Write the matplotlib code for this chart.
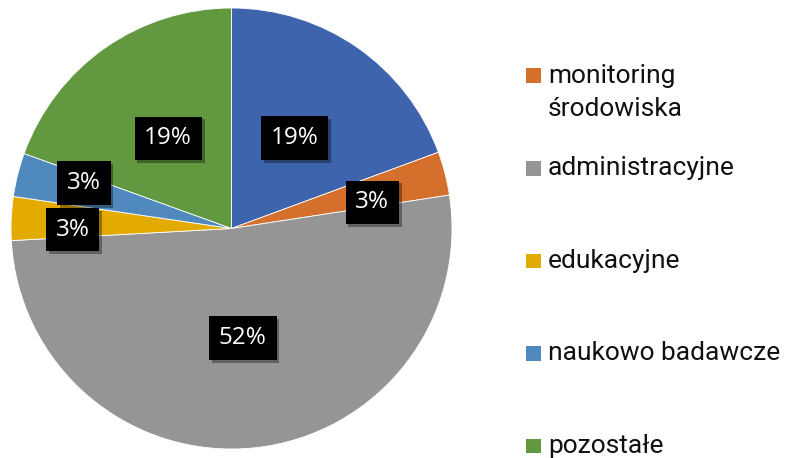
import matplotlib
matplotlib.use("Agg")
import numpy as np
import matplotlib.pyplot as plt
from matplotlib.patches import Rectangle
import matplotlib.patheffects as pe

# data (the first legend entry is cut off in the original)
categories = [None, "monitoring\nśrodowiska", "administracyjne", "edukacyjne",
              "naukowo badawcze", "pozostałe"]
shares = [19.4, 3.2, 51.6, 3.2, 3.2, 19.5]
pct_labels = ["19%", "3%", "52%", "3%", "3%", "19%"]
colors = ["#3E64AD", "#D4702C", "#959595", "#E3AA00", "#4F89BE", "#629940"]

# label placement (fraction of radius, angle nudge in degrees)
label_dist = [0.50, 0.65, 0.50, 0.72, 0.70, 0.50]
label_nudge = [0, -4, 0, 3, -3, 0]

W, H = 811, 458
fig = plt.figure(figsize=(W / 100, H / 100), dpi=100)

cx, cy, r = 231.5, 228.5, 220.5
ax = fig.add_axes([(cx - r) / W, (H - cy - r) / H, 2 * r / W, 2 * r / H])

wedges, _ = ax.pie(shares, colors=colors, startangle=90, counterclock=False,
                   wedgeprops=dict(edgecolor="white", linewidth=0.6))
ax.set_xlim(-1, 1)
ax.set_ylim(-1, 1)
ax.set_aspect("equal")
ax.axis("off")

for w, txt, d, nudge in zip(wedges, pct_labels, label_dist, label_nudge):
    ang = np.deg2rad((w.theta1 + w.theta2) / 2 + nudge)
    t = ax.text(d * np.cos(ang), d * np.sin(ang), txt, ha="center", va="center",
                color="white", fontsize=17.5, family="Open Sans",
                bbox=dict(boxstyle="square,pad=0.4", fc="black", ec="none"))
    t.get_bbox_patch().set_path_effects(
        [pe.SimplePatchShadow(offset=(2, -2), shadow_rgbFace="black", alpha=0.35),
         pe.Normal()])

# legend drawn by hand, it runs off the top of the canvas
def fx(x):
    return x / W

def fy(y):
    return 1 - y / H

base0, step = 83 - 92.5, 92.5
for i, (name, col) in enumerate(zip(categories, colors)):
    if name is None:
        continue
    base = base0 + i * step
    fig.patches.append(Rectangle((fx(526), fy(base)), 15 / W, 14.5 / H,
                                 transform=fig.transFigure, fc=col, ec="none"))
    lines = name.split("\n")
    for j, line in enumerate(lines):
        fig.text(fx(548), fy(base + j * 33), line, ha="left", va="baseline",
                 fontsize=19, family="Roboto", color="#111111")

fig.savefig("out.png", dpi=100)
